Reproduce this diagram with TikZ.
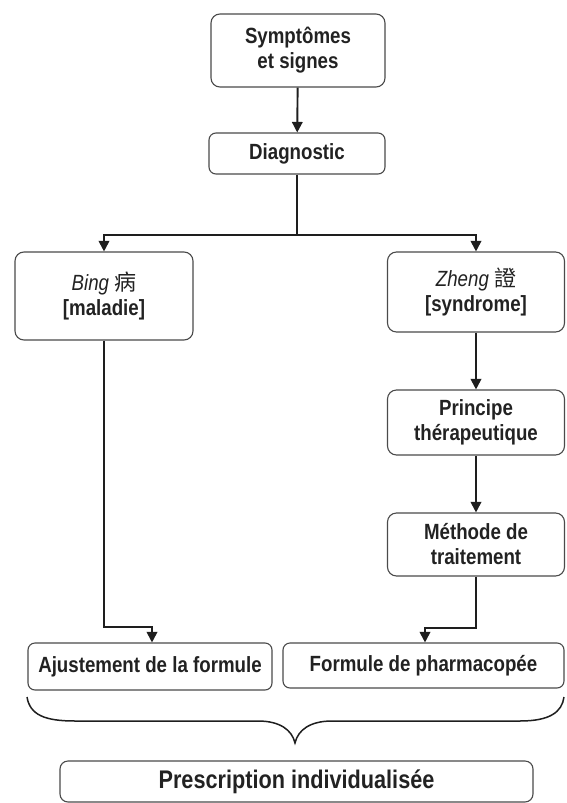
\documentclass[tikz,border=0pt]{standalone}
\usepackage{fontspec}
\setmainfont{Liberation Sans}[FakeStretch=0.85]
\newfontfamily\bigfont{Liberation Sans}[FakeStretch=0.85]
\newfontfamily\cjk{Noto Sans CJK TC}
\usetikzlibrary{arrows.meta}
\definecolor{boxgray}{HTML}{4A4A4A}
\definecolor{ln}{HTML}{1E1E1E}
\definecolor{txt}{HTML}{222222}
\begin{document}
\begin{tikzpicture}[x=1pt,y=-1pt,
  box/.style={draw=boxgray, line width=1.1pt, rounded corners=9pt, inner sep=0pt,
    align=center, text=txt, font=\bfseries\fontsize{22}{25}\selectfont},
  arr/.style={draw=ln, line width=1.9pt, -{Triangle[length=10.5pt,width=10.5pt]}},
  plain/.style={draw=ln, line width=1.9pt},
  brace/.style={draw=ln, line width=1.5pt}]
\useasboundingbox (0,0) rectangle (566,803);

\node[box, minimum width=174pt, minimum height=73pt] (sym) at (298,50.5) {Symptômes\\et signes};
\node[box, rounded corners=7pt, minimum width=176pt, minimum height=41pt] (diag) at (297,153.5) {Diagnostic};
\node[box, minimum width=178pt, minimum height=88pt] (bing) at (104,296) {{\mdseries\itshape Bing} {\cjk\mdseries 病}\\{}[maladie]};
\node[box, minimum width=177pt, minimum height=80pt] (zheng) at (476,292) {{\mdseries\itshape Zheng} {\cjk\mdseries 證}\\{}[syndrome]};
\node[box, minimum width=177pt, minimum height=65pt] (princ) at (476,422.5) {Principe\\thérapeutique};
\node[box, minimum width=177pt, minimum height=63pt] (meth) at (476,544.5) {Méthode de\\traitement};
\node[box, rounded corners=7pt, minimum width=244pt, minimum height=47pt] (ajust) at (150,666.5) {Ajustement de la formule};
\node[box, rounded corners=7pt, minimum width=281pt, minimum height=45pt] (form) at (423.5,665.5) {Formule de pharmacopée};
\node[box, rounded corners=8pt, minimum width=473pt, minimum height=41pt, font=\bigfont\bfseries\fontsize{25.5}{28}\selectfont] (presc) at (296.5,781.5) {Prescription individualisée};

\coordinate (split) at (297,235);
\coordinate (bl) at (152,627);
\coordinate (br) at (425,628);

\draw[arr] (sym) -- (diag);
\draw[plain] (diag.south) -- (split);
\draw[arr] (split) -| (bing.north);
\draw[arr] (split) -| (zheng.north);
\draw[arr] (zheng) -- (princ);
\draw[arr] (princ) -- (meth);
\draw[arr] (bing.south) |- (bl) -- (bl |- ajust.north);
\draw[arr] (meth.south) |- (br) -- (br |- form.north);

\draw[brace] (27,697) .. controls (30,715) and (45,721) .. (75,721) -- (258,721)
  .. controls (280,721) and (292,730) .. (295,743)
  .. controls (298,730) and (310,721) .. (332,721) -- (520,721)
  .. controls (550,721) and (562,712) .. (564,697);
\end{tikzpicture}
\end{document}
